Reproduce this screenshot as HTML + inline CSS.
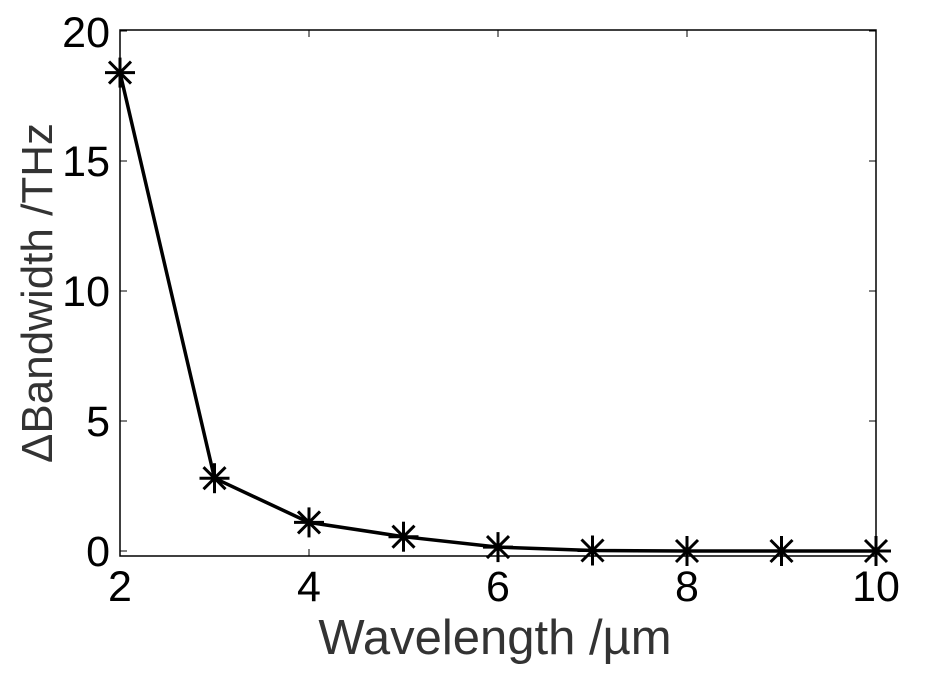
<!DOCTYPE html>
<html><head><style>body{margin:0;background:#fff}</style></head><body>
<svg width="925" height="677" xmlns="http://www.w3.org/2000/svg" font-family="Liberation Sans, sans-serif">
<rect width="925" height="677" fill="#fff"/>
<rect x="120" y="30" width="756" height="526" fill="none" stroke="#000" stroke-width="1.5"/>
<g stroke="#000" stroke-width="1">
<line x1="120" y1="551" x2="127" y2="551"/><line x1="876" y1="551" x2="869" y2="551"/>
<line x1="120" y1="421" x2="127" y2="421"/><line x1="876" y1="421" x2="869" y2="421"/>
<line x1="120" y1="291" x2="127" y2="291"/><line x1="876" y1="291" x2="869" y2="291"/>
<line x1="120" y1="161" x2="127" y2="161"/><line x1="876" y1="161" x2="869" y2="161"/>
<line x1="120" y1="31" x2="127" y2="31"/><line x1="876" y1="31" x2="869" y2="31"/>
<line x1="309" y1="556" x2="309" y2="549"/><line x1="309" y1="30" x2="309" y2="37"/>
<line x1="498" y1="556" x2="498" y2="549"/><line x1="498" y1="30" x2="498" y2="37"/>
<line x1="687" y1="556" x2="687" y2="549"/><line x1="687" y1="30" x2="687" y2="37"/>
</g>
<g font-size="43" fill="#000" text-anchor="end">
<text x="110" y="566">0</text><text x="110" y="436">5</text><text x="110" y="306">10</text><text x="110" y="176">15</text><text x="110" y="47">20</text>
</g>
<g font-size="43" fill="#000" text-anchor="middle">
<text x="120" y="601">2</text><text x="309" y="601">4</text><text x="498" y="601">6</text><text x="687" y="601">8</text><text x="876" y="601">10</text>
</g>
<text x="495" y="654" font-size="49" fill="#333" text-anchor="middle">Wavelength /µm</text>
<text transform="translate(52,293) rotate(-90)" font-size="44" fill="#333" text-anchor="middle">ΔBandwidth /THz</text>
<polyline fill="none" stroke="#000" stroke-width="3.5" points="120,72.6 214.5,478.2 309,522.4 403.5,536.7 498,547.1 592.5,550.5 687,551 781.5,551 876,551"/>
<g stroke="#000" stroke-width="3">
<defs><g id="s"><line x1="-15" y1="0" x2="15" y2="0"/><line x1="0" y1="-15" x2="0" y2="15"/><line x1="-11" y1="-11" x2="11" y2="11"/><line x1="-11" y1="11" x2="11" y2="-11"/></g></defs>
<use href="#s" x="120" y="72.6"/><use href="#s" x="214.5" y="478.2"/><use href="#s" x="309" y="522.4"/><use href="#s" x="403.5" y="536.7"/><use href="#s" x="498" y="547.1"/><use href="#s" x="592.5" y="550.5"/><use href="#s" x="687" y="551"/><use href="#s" x="781.5" y="551"/><use href="#s" x="876" y="551"/>
</g>
</svg>
</body></html>
